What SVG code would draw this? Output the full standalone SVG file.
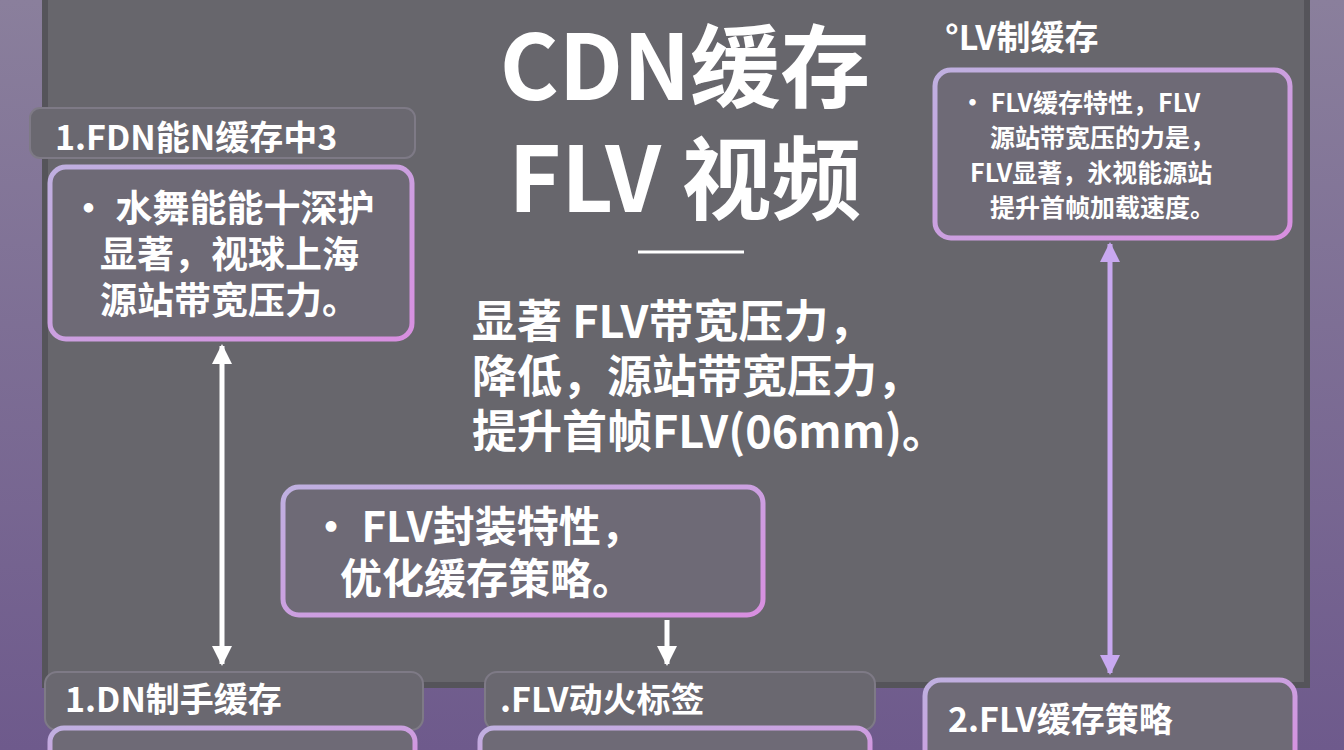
<svg xmlns="http://www.w3.org/2000/svg" width="1344" height="750" viewBox="0 0 1344 750">
<defs>
<linearGradient id="bg" x1="0" y1="0" x2="0" y2="1"><stop offset="0" stop-color="#8a7f9c"/><stop offset="1" stop-color="#6e5a8c"/></linearGradient>
<linearGradient id="bd" x1="0" y1="0" x2="1" y2="1"><stop offset="0" stop-color="#bfb0e0"/><stop offset="1" stop-color="#d88fe0"/></linearGradient>
<marker id="ah" viewBox="0 0 10 10" refX="9" refY="5" markerWidth="4" markerHeight="4" orient="auto-start-reverse"><path d="M0,0L10,5L0,10z" fill="#fff"/></marker>
<marker id="ahp" viewBox="0 0 10 10" refX="9" refY="5" markerWidth="4" markerHeight="4" orient="auto-start-reverse"><path d="M0,0L10,5L0,10z" fill="#c8a8f0"/></marker>
</defs>
<style>
text{font-family:"Noto Sans CJK SC","Noto Sans",sans-serif;fill:#fff;font-weight:700}
.box{fill:#6e6a76;stroke:url(#bd);stroke-width:5}
.hdr{fill:#6a6870;stroke:#7e7a86;stroke-width:2}
.t{font-size:37px}
.s{font-size:25px}
.h{font-size:34px}
</style>
<rect width="1344" height="750" fill="url(#bg)"/>
<rect x="45" y="-5" width="1262" height="690" fill="#67666c" stroke="#55545a" stroke-width="6"/>
<g id="title">
<text x="685" y="100" font-size="90" text-anchor="middle">CDN缓存</text>
<text x="685" y="212" font-size="90" text-anchor="middle">FLV 视频</text>
<line x1="638" y1="252" x2="744" y2="252" stroke="#fff" stroke-width="3"/>
</g>
<g id="mid-text">
<text x="472" y="338" font-size="45">显著 FLV带宽压力，</text>
<text x="472" y="393" font-size="45">降低，源站带宽压力，</text>
<text x="472" y="448" font-size="45">提升首帧FLV(06mm)。</text>
</g>
<g id="n1">
<rect class="hdr" x="30" y="108" width="385" height="50" rx="10"/>
<text x="55" y="150" class="h">1.FDN能N缓存中3</text>
<rect class="box" x="50" y="167" width="362" height="172" rx="16"/>
<text x="70" y="222" class="t">• 水舞能能十深护</text>
<text x="100" y="268" class="t">显著，视球上海</text>
<text x="100" y="314" class="t">源站带宽压力。</text>
</g>
<g id="n2">
<text x="945" y="50" class="h" font-size="32">°LV制缓存</text>
<rect class="box" x="935" y="70" width="355" height="168" rx="16"/>
<text x="960" y="112" class="s">• FLV缓存特性，FLV</text>
<text x="990" y="147" class="s">源站带宽压的力是，</text>
<text x="970" y="182" class="s">FLV显著，氷视能源站</text>
<text x="990" y="217" class="s">提升首帧加载速度。</text>
</g>
<g id="n3">
<rect class="box" x="283" y="487" width="480" height="128" rx="16"/>
<text x="310" y="542" font-size="42">• FLV封装特性，</text>
<text x="340" y="594" font-size="42">优化缓存策略。</text>
</g>
<g id="n4">
<rect class="hdr" x="45" y="672" width="378" height="58" rx="12"/>
<text x="65" y="712" class="h">1.DN制手缓存</text>
<rect class="box" x="50" y="728" width="365" height="40" rx="14"/>
</g>
<g id="n5">
<rect class="hdr" x="485" y="672" width="390" height="58" rx="12"/>
<text x="500" y="712" class="h">.FLV动火标签</text>
<rect class="box" x="480" y="728" width="390" height="40" rx="14"/>
</g>
<g id="n6">
<rect class="box" x="925" y="680" width="370" height="90" rx="16" fill="#7a6a92"/>
<text x="948" y="732" class="h">2.FLV缓存策略</text>
</g>
<g id="connectors" stroke-width="5" fill="none">
<line x1="222" y1="346" x2="222" y2="664" stroke="#fff" marker-start="url(#ah)" marker-end="url(#ah)"/>
<line x1="667" y1="620" x2="667" y2="664" stroke="#fff" marker-end="url(#ah)"/>
<line x1="1110" y1="244" x2="1110" y2="673" stroke="#c8a8f0" marker-start="url(#ahp)" marker-end="url(#ahp)"/>
</g>
</svg>
